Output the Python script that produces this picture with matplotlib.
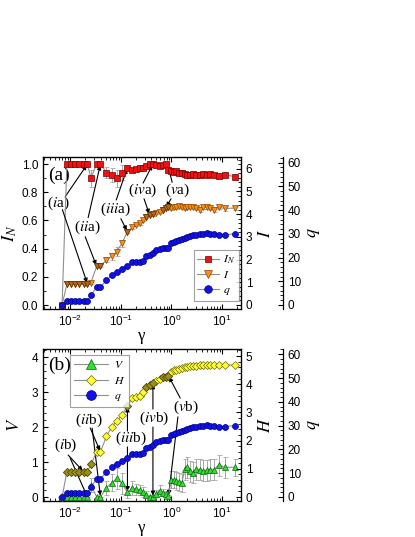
import numpy as np
import matplotlib
matplotlib.use('Agg')
import matplotlib.pyplot as plt
from matplotlib.lines import Line2D
from matplotlib.ticker import MultipleLocator, LogLocator, NullFormatter, FormatStrFormatter

plt.rcParams['font.family'] = 'Liberation Sans'
plt.rcParams['mathtext.fontset'] = 'stix'

###############################################################################
# data

gamma = [0.0069, 0.0086, 0.0103, 0.0126, 0.0151, 0.0183, 0.0219, 0.0256, 0.0333, 0.0396,
         0.052, 0.067, 0.083, 0.105, 0.135, 0.169, 0.20, 0.235, 0.275, 0.32,
         0.37, 0.43, 0.50, 0.58, 0.67, 0.77, 0.87, 0.98, 1.11, 1.25,
         1.41, 1.60, 1.82, 2.07, 2.35, 2.67, 3.05, 3.6, 4.2, 5.0,
         5.8, 6.9, 8.5, 11.5, 18.0]

I_N = [0.0, 1.0, 1.0, 1.0, 1.0, 1.0, 1.0, 0.90, 1.0, 1.0,
       0.94, 0.92, 0.90, 0.94, 0.975, 0.96, 0.965, 0.97, 0.975, 0.985,
       1.0, 1.0, 0.99, 0.985, 0.99, 1.0, 0.96, 0.95, 0.945, 0.95,
       0.94, 0.935, 0.93, 0.92, 0.925, 0.93, 0.925, 0.92, 0.93, 0.925,
       0.93, 0.92, 0.915, 0.925, 0.91]
I_N_err = [0, 0, 0, 0, 0, 0, 0, 0.06, 0, 0,
           0.04, 0.05, 0.06, 0.05, 0.015, 0.015, 0.015, 0.015, 0.015, 0.015,
           0.01, 0.01, 0.015, 0.015, 0.015, 0.01, 0.02, 0.02, 0.02, 0.02,
           0.02, 0.02, 0.02, 0.02, 0.02, 0.02, 0.02, 0.02, 0.02, 0.02,
           0.02, 0.02, 0.02, 0.02, 0.02]

I_val = [0.0, 0.92, 0.92, 0.92, 0.92, 0.92, 0.92, 0.98, 1.7, 1.7,
         2.0, 2.15, 2.35, 2.72, 3.23, 3.42, 3.52, 3.6, 3.74, 3.89,
         3.96, 4.0, 4.07, 4.11, 4.18, 4.27, 4.3, 4.25, 4.3, 4.32,
         4.35, 4.3, 4.25, 4.3, 4.33, 4.3, 4.28, 4.2, 4.3, 4.3,
         4.25, 4.2, 4.3, 4.25, 4.27]
I_err = [0, 0, 0, 0, 0, 0, 0, 0.05, 0.05, 0.05,
         0.12, 0.15, 0.2, 0.15, 0.06, 0.06, 0.06, 0.06, 0.06, 0.06,
         0.06, 0.06, 0.06, 0.06, 0.06, 0.06, 0.08, 0.08, 0.08, 0.08,
         0.08, 0.08, 0.08, 0.08, 0.08, 0.08, 0.08, 0.1, 0.08, 0.08,
         0.08, 0.1, 0.08, 0.1, 0.08]

q_val = [0, 1.5, 1.5, 1.5, 1.5, 1.5, 1.5, 4, 7.5, 7.5,
         10.5, 12.5, 14, 15, 16.5, 18, 18, 18, 18.5, 20.5,
         21, 22, 23, 23.5, 24, 24, 24, 26, 26.5, 27,
         27.3, 27.8, 28.3, 28.7, 29, 29.3, 29.6, 29.8, 30, 30.3,
         30, 29.8, 29.6, 29.6, 30]

H_val = [0, 0.9, 0.9, 0.9, 0.9, 0.9, 0.9, 1.16, 1.6, 1.6,
         2.16, 2.5, 2.7, 2.9, 3.23, 3.52, 3.55, 3.6, 3.73, 3.9,
         3.97, 4.05, 4.12, 4.2, 4.25, 4.27, 4.3, 4.42, 4.5, 4.52,
         4.55, 4.57, 4.6, 4.62, 4.63, 4.65, 4.66, 4.67, 4.67, 4.68,
         4.68, 4.68, 4.68, 4.68, 4.68]

V_val = [0, 0, 0, 0, 0, 0, 0, 0.35, 0, 0,
         0.27, 0.41, 0.53, 0.39, 0.13, 0.25, 0.22, 0.2, 0.15, 0.06,
         0.0, 0.0, 0.1, 0.18, 0.12, 0.08, 0.02, 0.5, 0.5, 0.46,
         0.43, 0.4, 0.79, 0.85, 0.74, 0.7, 0.8, 0.78, 0.75, 0.77,
         0.78, 0.78, 0.91, 0.85, 0.85]
V_err = [0, 0, 0, 0, 0, 0, 0, 0.2, 0, 0,
         0.2, 0.25, 0.3, 0.3, 0.15, 0.2, 0.15, 0.15, 0.15, 0.1,
         0.05, 0.05, 0.1, 0.15, 0.1, 0.1, 0.05, 0.25, 0.25, 0.25,
         0.25, 0.25, 0.3, 0.3, 0.3, 0.3, 0.3, 0.3, 0.3, 0.3,
         0.3, 0.3, 0.3, 0.3, 0.25]

# points the arrows point at (drawn darker)
hl_I = [1, 2, 3, 4, 5, 6, 8, 9, 14, 19, 20, 21, 24, 25, 26]
hl_H = [1, 2, 3, 4, 5, 6, 7, 14, 19, 20, 21, 24, 25, 26]

g = np.array(gamma)

###############################################################################

fig = plt.figure(figsize=(4.15, 5.37), dpi=100)
W, H = 415.0, 537.0
ax_a = fig.add_axes([43 / W, 1 - 309 / H, 198 / W, 152 / H])
ax_b = fig.add_axes([43 / W, 1 - 501 / H, 198 / W, 152 / H])

serif = 'Liberation Serif'
lc = '#8f8f8f'


def style_axes(ax):
    ax.set_xscale('log')
    ax.set_xlim(0.0029, 23.6)
    ax.xaxis.set_major_locator(LogLocator(base=10, numticks=10))
    ax.xaxis.set_minor_locator(LogLocator(base=10, subs=np.arange(2, 10), numticks=20))
    ax.xaxis.set_minor_formatter(NullFormatter())
    ax.tick_params(which='both', direction='in', top=True, right=False, labelsize=8.5)
    ax.tick_params(which='major', length=3.5, width=0.8)
    ax.tick_params(which='minor', length=2, width=0.6)
    for s in ax.spines.values():
        s.set_linewidth(0.9)
    ax.set_xlabel('γ', family=serif, fontsize=12, labelpad=-1)


def make_twins(ax):
    t1 = ax.twinx()
    t2 = ax.twinx()
    t2.spines['right'].set_position(('axes', 1 + 42 / 198.0))
    for s in ['left', 'top', 'bottom']:
        t2.spines[s].set_visible(False)
    for t in (t1, t2):
        t.tick_params(which='both', direction='in', labelsize=8.5)
        t.tick_params(which='major', length=3.5, width=0.8)
        t.tick_params(which='minor', length=2, width=0.6)
    t2.spines['right'].set_linewidth(0.9)
    return t1, t2


def arrow(ax, xy, xytext):
    ax.annotate('', xy=xy, xytext=xytext, xycoords='data', textcoords='data',
                arrowprops=dict(arrowstyle='-|>', color='black', lw=0.8,
                                mutation_scale=6, shrinkA=0, shrinkB=1))


def lab(ax, x, y, s):
    ax.text(x, y, s, family=serif, fontsize=11, ha='center', va='center')


###############################################################################
# panel (a)

style_axes(ax_a)
tI, tq = make_twins(ax_a)

ax_a.set_ylim(-0.028, 1.05)
ax_a.yaxis.set_major_locator(MultipleLocator(0.2))
ax_a.yaxis.set_minor_locator(MultipleLocator(0.1))
ax_a.yaxis.set_major_formatter(FormatStrFormatter('%.1f'))
ax_a.set_ylabel(r'$I_N$', fontsize=13, labelpad=2)

tI.set_ylim(-0.18, 6.52)
tI.yaxis.set_major_locator(MultipleLocator(1))
tI.yaxis.set_minor_locator(MultipleLocator(0.2))
tI.set_ylabel(r'$I$', fontsize=13, rotation=90, labelpad=3)

tq.set_ylim(-1.7, 62.4)
tq.yaxis.set_major_locator(MultipleLocator(10))
tq.yaxis.set_minor_locator(MultipleLocator(2))
tq.set_ylabel(r'$q$', fontsize=13, rotation=90, labelpad=3)

tq.plot(g, q_val, '-o', color=lc, lw=0.8, ms=4.3, mfc='#1010ee', mec='#00007a', mew=0.5, zorder=3)
tI.errorbar(g, I_val, yerr=I_err, fmt='-v', color=lc, lw=0.8, ms=4.5, mfc='#ff8c1a',
            mec='#8a4a00', mew=0.5, ecolor='#9a9a9a', elinewidth=0.6, capsize=1.8, zorder=3)
idx = np.array(hl_I)
tI.plot(g[idx], np.array(I_val)[idx], 'v', ms=4.5, mfc='#b8661a', mec='#5a3000', mew=0.5, zorder=4)
ax_a.errorbar(g, I_N, yerr=I_N_err, fmt='-s', color=lc, lw=0.8, ms=3.8, mfc='#ee1111',
              mec='#7a0000', mew=0.5, ecolor='#9a9a9a', elinewidth=0.6, capsize=1.8, zorder=3)

ax_a.text(0.0061, 0.92, '(a)', family=serif, fontsize=14, ha='center', va='center')

# annotations (a): red arrows in I_N units, orange arrows in I units
lab(ax_a, 0.0058, 0.72, r'($\mathit{i}$a)')
arrow(ax_a, (g[6], 1.0), (0.0080, 0.77))
arrow(tI, (g[6], I_val[6]), (0.0070, 4.2))
lab(ax_a, 0.0217, 0.553, r'($\mathit{ii}$a)')
arrow(ax_a, (g[9], 1.0), (0.0226, 0.62))
arrow(tI, (g[8], I_val[8]), (0.0198, 3.0))
lab(ax_a, 0.077, 0.68, r'($\mathit{iii}$a)')
arrow(ax_a, (g[14], I_N[14]), (0.081, 0.745))
arrow(tI, (g[14], I_val[14]), (0.10, 3.8))
lab(ax_a, 0.264, 0.816, r'($\mathit{iv}$a)')
arrow(ax_a, (g[21], 1.0), (0.275, 0.865))
arrow(tI, (g[20], I_val[20]), (0.287, 4.68))
lab(ax_a, 1.34, 0.816, r'($\mathit{v}$a)')
arrow(ax_a, (g[26], I_N[26] + 0.02), (1.03, 0.87))
arrow(tI, (g[25], I_val[25]), (0.98, 4.68))

h_a = [Line2D([], [], color=lc, lw=0.8, marker='s', ms=4.5, mfc='#ee1111', mec='#7a0000', mew=0.5),
       Line2D([], [], color=lc, lw=0.8, marker='v', ms=6, mfc='#ff8c1a', mec='#8a4a00', mew=0.5),
       Line2D([], [], color=lc, lw=0.8, marker='o', ms=5.5, mfc='#1010ee', mec='#00007a', mew=0.5)]
leg = tq.legend(h_a, [r'$I_N$', r'$I$', r'$q$'], loc='lower right', fontsize=8.5,
                frameon=True, fancybox=False, edgecolor='#888888', handlelength=1.8,
                borderpad=0.3, labelspacing=0.25, handletextpad=0.4,
                borderaxespad=0, bbox_to_anchor=(0.99, 0.053))
leg.get_frame().set_linewidth(0.8)

###############################################################################
# panel (b)

style_axes(ax_b)
tH, tq2 = make_twins(ax_b)

ax_b.set_ylim(-0.114, 4.23)
ax_b.yaxis.set_major_locator(MultipleLocator(1))
ax_b.yaxis.set_minor_locator(MultipleLocator(0.2))
ax_b.set_ylabel(r'$V$', fontsize=13, labelpad=6)

tH.set_ylim(-0.14, 5.25)
tH.yaxis.set_major_locator(MultipleLocator(1))
tH.yaxis.set_minor_locator(MultipleLocator(0.2))
tH.set_ylabel(r'$H$', fontsize=13, rotation=90, labelpad=3)

tq2.set_ylim(-1.7, 62.2)
tq2.yaxis.set_major_locator(MultipleLocator(10))
tq2.yaxis.set_minor_locator(MultipleLocator(2))
tq2.set_ylabel(r'$q$', fontsize=13, rotation=90, labelpad=3)

tq2.plot(g, q_val, '-o', color=lc, lw=0.8, ms=4.3, mfc='#1010ee', mec='#00007a', mew=0.5, zorder=3)
tH.plot(g, H_val, '-D', color=lc, lw=0.8, ms=3.8, mfc='#ffff33', mec='#6b6b00', mew=0.5, zorder=3)
idx = np.array(hl_H)
tH.plot(g[idx], np.array(H_val)[idx], 'D', ms=3.8, mfc='#9a8f1a', mec='#4a4500', mew=0.5, zorder=4)
ax_b.errorbar(g, V_val, yerr=V_err, fmt='-^', color=lc, lw=0.8, ms=4.5, mfc='#33dd33',
              mec='#0a6a0a', mew=0.5, ecolor='#9a9a9a', elinewidth=0.6, capsize=1.8, zorder=3)

ax_b.text(0.0061, 3.77, '(b)', family=serif, fontsize=14, ha='center', va='center')

lab(ax_b, 0.0083, 1.49, r'($\mathit{i}$b)')
arrow(tH, (g[5], H_val[5]), (0.0091, 1.49))
arrow(ax_b, (g[6], V_val[6]), (0.0100, 1.11))
lab(ax_b, 0.0237, 2.2, r'($\mathit{ii}$b)')
arrow(tH, (g[9], H_val[9]), (0.0248, 2.45))
arrow(ax_b, (g[9], V_val[9]), (0.0271, 1.97))
lab(ax_b, 0.16, 1.69, r'($\mathit{iii}$b)')
arrow(tH, (g[14], H_val[14]), (g[14], 2.34))
arrow(ax_b, (g[14], V_val[14]), (g[14], 1.43))
lab(ax_b, 0.45, 2.26, r'($\mathit{iv}$b)')
arrow(tH, (g[21], H_val[21]), (g[21], 3.12))
arrow(ax_b, (g[21], V_val[21]), (g[21], 2.0))
lab(ax_b, 1.94, 2.57, r'($\mathit{v}$b)')
arrow(tH, (g[26], H_val[26]), (1.49, 3.51))
arrow(ax_b, (g[26], V_val[26]), (1.34, 2.29))

h_b = [Line2D([], [], color=lc, lw=0.8, marker='^', ms=7, mfc='#33dd33', mec='#0a6a0a', mew=0.5),
       Line2D([], [], color=lc, lw=0.8, marker='D', ms=5.5, mfc='#ffff33', mec='#6b6b00', mew=0.5),
       Line2D([], [], color=lc, lw=0.8, marker='o', ms=7, mfc='#1010ee', mec='#00007a', mew=0.5)]
leg = tq2.legend(h_b, [r'$V$', r'$H$', r'$q$'], loc='upper left', fontsize=8.5,
                 frameon=True, fancybox=False, edgecolor='#888888', handlelength=2.9,
                 borderpad=0.35, labelspacing=0.3, handletextpad=0.5,
                 borderaxespad=0, bbox_to_anchor=(0.136, 0.96))
leg.get_frame().set_linewidth(0.8)

fig.savefig('out.png', dpi=100)
